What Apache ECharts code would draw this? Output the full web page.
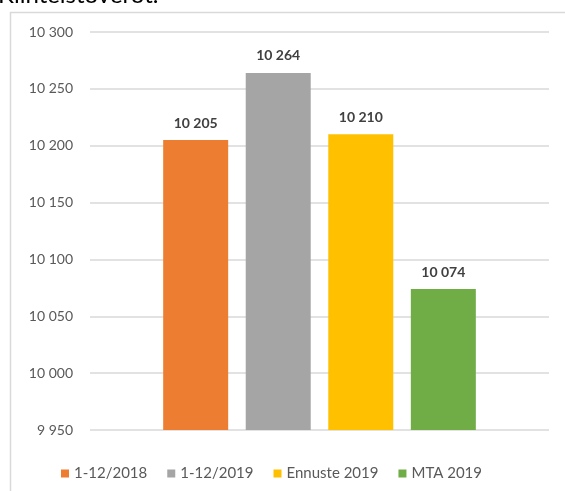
<!DOCTYPE html>
<html>
<head>
<meta charset="utf-8">
<script src="https://cdn.jsdelivr.net/npm/echarts@6/dist/echarts.min.js"></script>
<style>
  html, body { margin: 0; padding: 0; background: #fff; }
  #chart { width: 565px; height: 491px; }
</style>
</head>
<body>
<div id="chart"></div>
<script>
var titleText = 'Kiinteistöverot.';
var seriesNames = ['1-12/2018', '1-12/2019', 'Ennuste 2019', 'MTA 2019'];
var values = [10205, 10264, 10210, 10074];
var yTicks = { min: 9950, max: 10300, step: 50 };

var colors = ['#ED7D31', '#A5A5A5', '#FFC000', '#70AD47'];

function fmt(v) {
    return String(v).replace(/\B(?=(\d{3})+(?!\d))/g, ' ');
}

var series = seriesNames.map(function (name, i) {
    return {
        name: name,
        type: 'bar',
        data: [values[i]],
        barWidth: 65,
        barGap: '27%',
        itemStyle: { color: colors[i] },
        label: {
            show: true,
            position: 'top',
            distance: 10,
            color: '#404040',
            fontWeight: 'bold',
            fontSize: 14,
            fontFamily: 'Lato',
            formatter: function (p) { return fmt(p.value); }
        }
    };
});

var myChart = echarts.init(document.getElementById('chart'));
myChart.setOption({
    animation: false,
    graphic: [
        {
            type: 'rect',
            shape: { x: 10.5, y: 12.5, width: 600, height: 600 },
            style: { fill: 'none', stroke: '#d9d9d9', lineWidth: 1.5 },
            silent: true
        },
        {
            type: 'text',
            left: -2,
            top: -17,
            style: { text: titleText, fill: '#000', font: '24px Lato' }
        }
    ],
    grid: { left: 90, right: 16, top: 32, bottom: 61 },
    legend: {
        top: 461,
        left: 56,
        itemWidth: 8,
        itemHeight: 8,
        itemGap: 20,
        icon: 'rect',
        textStyle: { color: '#595959', fontSize: 15, fontFamily: 'Lato' },
        data: seriesNames
    },
    xAxis: {
        type: 'category',
        data: [''],
        axisLine: { show: false },
        axisTick: { show: false },
        axisLabel: { show: false }
    },
    yAxis: {
        type: 'value',
        min: yTicks.min,
        max: yTicks.max,
        interval: yTicks.step,
        axisLine: { show: false },
        axisTick: { show: false },
        axisLabel: {
            color: '#595959',
            fontSize: 14,
            fontFamily: 'Lato',
            margin: 17,
            formatter: function (v) { return fmt(v); }
        },
        splitLine: { lineStyle: { color: '#d9d9d9', width: 1.5 } }
    },
    series: series
});
</script>
</body>
</html>
